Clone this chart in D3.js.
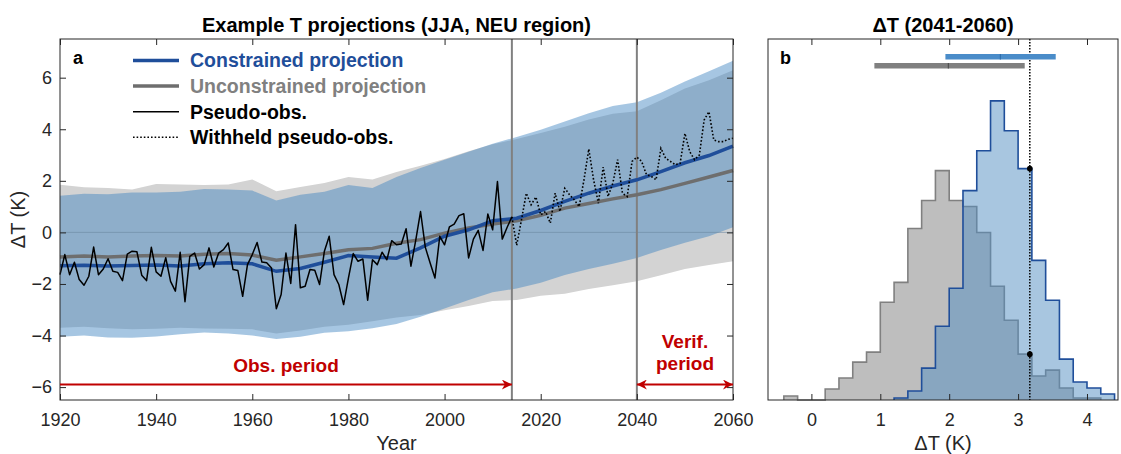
<!DOCTYPE html>
<html>
<head>
<meta charset="utf-8">
<title>Example T projections</title>
<script src="https://d3js.org/d3.v7.min.js"></script>
<style>
    body { margin: 0; background: #fff; }
    svg { font-family: "Liberation Sans", Arial, sans-serif; }
    .tick text { font-size: 18px; fill: #262626; }
    .tick line { stroke: #262626; stroke-width: 1; }
    .box { fill: none; stroke: #262626; stroke-width: 1; }
</style>
</head>
<body>
<svg width="1121" height="454"></svg>
<script>
// ---- data: panel a ----
const bandYears = [1920, 1925, 1930, 1935, 1940, 1945, 1950, 1955, 1960, 1965, 1970, 1975, 1980, 1985, 1990,
                   1995, 2000, 2005, 2010, 2015, 2020, 2025, 2030, 2035, 2040, 2045, 2050, 2055, 2060];
const grayUpper = [1.85, 1.75, 1.72, 1.66, 1.88, 1.86, 1.84, 1.86, 2.05, 1.60, 1.76, 1.92, 2.15, 2.05, 2.34,
                   2.58, 2.85, 3.15, 3.42, 3.62, 3.85, 4.10, 4.38, 4.60, 4.70, 5.12, 5.58, 5.90, 6.29];
const grayLower = [-3.70, -3.66, -3.72, -3.76, -3.74, -3.70, -3.73, -3.74, -3.76, -3.92, -3.80, -3.66, -3.58, -3.45, -3.30,
                   -3.20, -3.02, -2.85, -2.66, -2.62, -2.46, -2.38, -2.20, -2.05, -1.89, -1.66, -1.42, -1.26, -1.12];
const blueUpper = [1.42, 1.50, 1.48, 1.55, 1.55, 1.58, 1.68, 1.66, 1.62, 1.24, 1.46, 1.58, 1.84, 1.72, 2.15,
                   2.50, 2.82, 3.13, 3.44, 3.70, 3.98, 4.30, 4.62, 4.90, 5.05, 5.42, 5.85, 6.25, 6.66];
const blueLower = [-4.05, -4.00, -4.08, -4.09, -4.04, -3.95, -3.88, -3.92, -4.00, -4.13, -4.05, -3.89, -3.83, -3.72, -3.55,
                   -3.27, -2.95, -2.62, -2.32, -2.18, -1.95, -1.65, -1.42, -1.22, -0.99, -0.68, -0.40, -0.15, 0.20];
const blueMean = [-1.29, -1.27, -1.30, -1.28, -1.26, -1.30, -1.22, -1.18, -1.22, -1.51, -1.40, -1.16, -0.90, -0.95, -1.00,
                  -0.60, -0.15, 0.10, 0.45, 0.55, 0.85, 1.20, 1.52, 1.80, 2.04, 2.36, 2.70, 2.98, 3.35];
const grayMean = [-0.95, -0.92, -0.95, -0.92, -0.90, -0.92, -0.85, -0.82, -0.88, -1.08, -0.95, -0.82, -0.67, -0.62, -0.42,
                  -0.28, -0.03, 0.17, 0.32, 0.45, 0.66, 0.94, 1.12, 1.30, 1.46, 1.66, 1.90, 2.15, 2.40];

const obsStart = 1920;   // pseudo-obs, one value per year 1920-2014
const pseudoObs = [
    -1.64, -0.86, -1.64, -1.16, -1.83, -2.05, -1.70, -0.57, -1.64, -1.42,
    -1.02, -1.51, -1.55, -1.87, -0.84, -0.73, -0.75, -1.66, -1.87, -0.58,
    -1.53, -1.70, -0.98, -1.90, -2.28, -0.77, -2.69, -0.93, -0.80, -1.42,
    -1.25, -0.60, -1.34, -0.80, -0.67, -0.41, -1.44, -1.48, -2.48, -1.25,
    -0.86, -0.39, -1.15, -1.18, -1.38, -2.96, -2.41, -0.80, -1.98, 0.30,
    -2.15, -2.09, -1.44, -1.47, -2.02, -0.73, -0.15, -1.64, -2.02, -2.80,
    -1.77, -0.82, -1.12, -1.03, -2.63, -1.06, -1.25, -0.77, -1.06, -0.32,
    -0.48, -0.45, 0.14, -1.31, -0.31, 0.81, -0.58, -1.19, -1.77, -0.15,
    -0.48, 0.21, 0.32, 0.65, 0.72, -0.99, -0.26, 0.08, -0.70, 0.71,
    0.10, 1.97, -0.26, 0.19, 0.60];
const heldStart = 2014;  // withheld pseudo-obs, 2014-2060
const withheldObs = [
    0.60, -0.50, 0.49, 1.52, 1.07, 1.37, 0.68, 0.81, 0.36, 1.52, 0.81,
    1.71, 1.46, 1.26, 1.00, 2.04, 3.23, 2.04, 1.13, 2.53, 1.39,
    1.91, 2.82, 1.52, 1.39, 2.75, 2.92, 2.75, 2.24, 2.17, 2.04,
    3.26, 2.87, 2.75, 2.62, 2.68, 3.84, 3.13, 2.82, 3.00, 4.36,
    4.68, 3.58, 3.52, 3.52, 3.61, 3.65];

const obsEnd = 2014, verifStart = 2040, verifEnd = 2060;
const xTicksA = [1920, 1940, 1960, 1980, 2000, 2020, 2040, 2060];
const yTicksA = [-6, -4, -2, 0, 2, 4, 6];

// ---- data: panel b ----
const binWidth = 0.2;
const grayBinStart = -0.4;
const grayCounts = [2, 0, 0, 5.5, 11, 19, 24, 49, 59, 86, 100, 115, 100, 97, 84, 57, 40, 23, 12, 15, 6, 1, 1];
const blueBinStart = 1.2;
const blueCounts = [1, 4.5, 16, 37, 56, 105, 125, 150, 135, 116, 70, 50, 20.5, 9, 6, 3];
const blueRange = [1.945, 2.743, 3.546];   // low, median, high
const grayRange = [0.914, 1.988, 3.096];
const obsValue = 3.17;
const xTicksB = [0, 1, 2, 3, 4];

// ---- colours ----
const bandGray = "#d3d3d3", bandBlue = "rgb(62,130,191)", blueAlpha = 0.46;
const meanBlue = "#1f4e9a", meanGray = "#6e6e6e", red = "#c00000", axisCol = "#262626";

const svg = d3.select("svg");
const defs = svg.append("defs");
defs.append("marker").attr("id", "arr").attr("viewBox", "0 0 10 10")
    .attr("refX", 10).attr("refY", 5).attr("markerWidth", 14).attr("markerHeight", 10)
    .attr("markerUnits", "userSpaceOnUse").attr("orient", "auto-start-reverse")
    .append("path").attr("d", "M0,0 L10,5 L0,10 L3,5 Z").attr("fill", red);

// ================= panel a =================
const A = {l: 60, r: 733, t: 39, b: 400};
const x = d3.scaleLinear().domain([1920, 2060]).range([A.l, A.r]);
const y = d3.scaleLinear().domain([-6.5, 7.5]).range([A.b, A.t]);

const ga = svg.append("g");
const band = (lo, hi) => d3.area().x((d, i) => x(bandYears[i])).y0((d, i) => y(lo[i])).y1((d, i) => y(hi[i]));
ga.append("path").attr("d", band(grayLower, grayUpper)(bandYears)).attr("fill", bandGray);
ga.append("path").attr("d", band(blueLower, blueUpper)(bandYears)).attr("fill", bandBlue).attr("fill-opacity", blueAlpha);

ga.append("line").attr("x1", A.l).attr("x2", A.r).attr("y1", y(0)).attr("y2", y(0))
    .attr("stroke", "#6d8aa3").attr("stroke-width", 1).attr("opacity", 0.6);

// vertical period lines
[obsEnd, verifStart].forEach(v => {
    ga.append("line").attr("x1", x(v)).attr("x2", x(v)).attr("y1", A.t).attr("y2", A.b)
        .attr("stroke", "#808080").attr("stroke-width", 2);
});

const meanLine = arr => d3.line().x((d, i) => x(bandYears[i])).y(d => y(d))(arr);
ga.append("path").attr("d", meanLine(grayMean)).attr("fill", "none").attr("stroke", meanGray).attr("stroke-width", 3.5);
ga.append("path").attr("d", meanLine(blueMean)).attr("fill", "none").attr("stroke", meanBlue).attr("stroke-width", 3.5);

const obsLine = start => d3.line().x((d, i) => x(start + i)).y(d => y(d));
ga.append("path").attr("d", obsLine(heldStart)(withheldObs)).attr("fill", "none")
    .attr("stroke", "#000").attr("stroke-width", 1.6).attr("stroke-dasharray", "1.6,2");
ga.append("path").attr("d", obsLine(obsStart)(pseudoObs)).attr("fill", "none")
    .attr("stroke", "#000").attr("stroke-width", 1.5).attr("stroke-linejoin", "round");

// axes a
ga.append("g").attr("transform", `translate(0,${A.b})`)
    .call(d3.axisBottom(x).tickValues(xTicksA).tickFormat(d3.format("d")).tickSize(-6).tickSizeOuter(0).tickPadding(13))
    .call(g => g.select(".domain").remove());
ga.append("g").attr("transform", `translate(0,${A.t})`)
    .call(d3.axisTop(x).tickValues(xTicksA).tickFormat("").tickSize(-6).tickSizeOuter(0))
    .call(g => g.select(".domain").remove());
ga.append("g").attr("transform", `translate(${A.l},0)`)
    .call(d3.axisLeft(y).tickValues(yTicksA).tickSize(-6).tickSizeOuter(0).tickPadding(8))
    .call(g => g.select(".domain").remove());
ga.append("g").attr("transform", `translate(${A.r},0)`)
    .call(d3.axisRight(y).tickValues(yTicksA).tickFormat("").tickSize(-6).tickSizeOuter(0))
    .call(g => g.select(".domain").remove());
ga.append("rect").attr("class", "box").attr("x", A.l).attr("y", A.t).attr("width", A.r - A.l).attr("height", A.b - A.t);

// period arrows
const arrowY = y(-5.9);
ga.append("line").attr("x1", x(1920)).attr("x2", x(obsEnd)).attr("y1", arrowY).attr("y2", arrowY)
    .attr("stroke", red).attr("stroke-width", 2).attr("marker-end", "url(#arr)");
ga.append("line").attr("x1", x(verifStart)).attr("x2", x(verifEnd)).attr("y1", arrowY).attr("y2", arrowY)
    .attr("stroke", red).attr("stroke-width", 2).attr("marker-end", "url(#arr)").attr("marker-start", "url(#arr)");
ga.append("text").attr("x", 286).attr("y", 372).attr("text-anchor", "middle").attr("fill", red)
    .attr("font-size", 19).attr("font-weight", "bold").text("Obs. period");
const vt = ga.append("text").attr("x", 685).attr("text-anchor", "middle").attr("fill", red)
    .attr("font-size", 19).attr("font-weight", "bold");
vt.append("tspan").attr("x", 685).attr("y", 348).text("Verif.");
vt.append("tspan").attr("x", 685).attr("y", 369.5).text("period");

// legend
const legend = [
    {label: "Constrained projection", color: meanBlue, text: meanBlue, w: 3.5},
    {label: "Unconstrained projection", color: meanGray, text: "#808080", w: 3.5},
    {label: "Pseudo-obs.", color: "#000", text: "#000", w: 1.5},
    {label: "Withheld pseudo-obs.", color: "#000", text: "#000", w: 1.5, dash: "1.6,2"}
];
legend.forEach((d, i) => {
    const ly = 60.5 + i * 25.6;
    ga.append("line").attr("x1", 133).attr("x2", 179).attr("y1", ly).attr("y2", ly)
        .attr("stroke", d.color).attr("stroke-width", d.w).attr("stroke-dasharray", d.dash || null);
    ga.append("text").attr("x", 190).attr("y", ly).attr("dy", "0.35em").attr("fill", d.text)
        .attr("font-size", 19.5).attr("font-weight", "bold").text(d.label);
});
ga.append("text").attr("x", 73).attr("y", 63.5).attr("font-size", 18).attr("font-weight", "bold").attr("fill", "#000").text("a");

ga.append("text").attr("x", (A.l + A.r) / 2).attr("y", 32).attr("text-anchor", "middle")
    .attr("font-size", 20).attr("font-weight", "bold").attr("fill", "#000").text("Example T projections (JJA, NEU region)");
ga.append("text").attr("x", (A.l + A.r) / 2).attr("y", 450).attr("text-anchor", "middle")
    .attr("font-size", 20).attr("fill", axisCol).text("Year");
ga.append("text").attr("transform", `translate(25,${(A.t + A.b) / 2}) rotate(-90)`).attr("text-anchor", "middle")
    .attr("font-size", 20).attr("fill", axisCol).text("ΔT (K)");

// ================= panel b =================
const B = {l: 768, r: 1118, t: 39, b: 400};
const xb = d3.scaleLinear().domain([-0.63, 4.45]).range([B.l, B.r]);
const yb = d3.scaleLinear().domain([0, 181]).range([B.b, B.t]);
const gb = svg.append("g");

function stepPts(start, counts) {
    const pts = [[start, 0]];
    counts.forEach((c, i) => pts.push([start + i * binWidth, c]));
    pts.push([start + counts.length * binWidth, 0]);
    return pts;
}
const stepArea = d3.area().curve(d3.curveStepAfter).x(d => xb(d[0])).y0(yb(0)).y1(d => yb(d[1]));
const stepLine = d3.line().curve(d3.curveStepAfter).x(d => xb(d[0])).y(d => yb(d[1]));

gb.append("path").attr("d", stepArea(stepPts(grayBinStart, grayCounts))).attr("fill", "#bebebe");
gb.append("path").attr("d", stepLine(stepPts(grayBinStart, grayCounts))).attr("fill", "none")
    .attr("stroke", "#808080").attr("stroke-width", 1.6);
gb.append("path").attr("d", stepArea(stepPts(blueBinStart, blueCounts))).attr("fill", "rgb(82,141,194)").attr("fill-opacity", 0.5);
gb.append("path").attr("d", stepLine(stepPts(blueBinStart, blueCounts))).attr("fill", "none")
    .attr("stroke", meanBlue).attr("stroke-width", 1.6);

// observed value line and markers
gb.append("line").attr("x1", xb(obsValue)).attr("x2", xb(obsValue)).attr("y1", B.t).attr("y2", B.b)
    .attr("stroke", "#000").attr("stroke-width", 1.5).attr("stroke-dasharray", "1.5,1.5");
const binOf = (start, counts) => counts[Math.floor((obsValue - start) / binWidth + 1e-9)];
[binOf(blueBinStart, blueCounts), binOf(grayBinStart, grayCounts)].forEach(c => {
    gb.append("circle").attr("cx", xb(obsValue)).attr("cy", yb(c)).attr("r", 2.8).attr("fill", "#000");
});

// range bars
[[blueRange, 56.7, "#4a8cc9", "#2f6fae"], [grayRange, 65.8, "#808080", "#505050"]].forEach(([r, cy, c, mc]) => {
    gb.append("line").attr("x1", xb(r[0])).attr("x2", xb(r[2])).attr("y1", cy).attr("y2", cy)
        .attr("stroke", c).attr("stroke-width", 5.5);
    gb.append("line").attr("x1", xb(r[1])).attr("x2", xb(r[1])).attr("y1", cy - 2.75).attr("y2", cy + 2.75)
        .attr("stroke", mc).attr("stroke-width", 1.2);
});

gb.append("g").attr("transform", `translate(0,${B.b})`)
    .call(d3.axisBottom(xb).tickValues(xTicksB).tickFormat(d3.format("d")).tickSize(-6).tickSizeOuter(0).tickPadding(13))
    .call(g => g.select(".domain").remove());
gb.append("g").attr("transform", `translate(0,${B.t})`)
    .call(d3.axisTop(xb).tickValues(xTicksB).tickFormat("").tickSize(-6).tickSizeOuter(0))
    .call(g => g.select(".domain").remove());
gb.append("rect").attr("class", "box").attr("x", B.l).attr("y", B.t).attr("width", B.r - B.l).attr("height", B.b - B.t);

gb.append("text").attr("x", 780).attr("y", 64).attr("font-size", 18).attr("font-weight", "bold").attr("fill", "#000").text("b");
gb.append("text").attr("x", (B.l + B.r) / 2).attr("y", 32).attr("text-anchor", "middle")
    .attr("font-size", 20).attr("font-weight", "bold").attr("fill", "#000").text("ΔT (2041-2060)");
gb.append("text").attr("x", (B.l + B.r) / 2).attr("y", 450).attr("text-anchor", "middle")
    .attr("font-size", 20).attr("fill", axisCol).text("ΔT (K)");
</script>
</body>
</html>
